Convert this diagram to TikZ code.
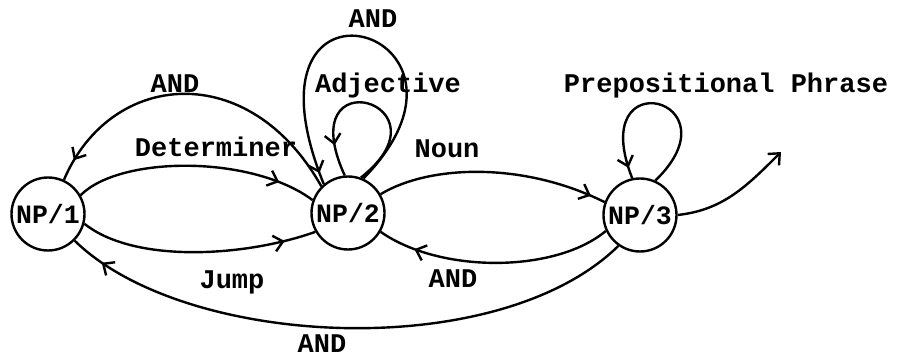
\documentclass[tikz,border=0pt]{standalone}
\usepackage{fontspec}
\newfontfamily\tw{Liberation Mono}
\usetikzlibrary{arrows.meta,decorations.markings}
\begin{document}
\begin{tikzpicture}[x=1pt,y=-1pt,
  st/.style={circle,draw,line width=2.4pt,minimum size=73pt,inner sep=0pt,font=\tw\bfseries\fontsize{26.5}{28}\selectfont},
  lbl/.style={font=\tw\bfseries\fontsize{27}{30}\selectfont,inner sep=0pt,anchor=base},
  edge/.style={line width=2.4pt},
  chev/.style={-{Straight Barb[length=9pt,width=16pt]}},
  midarr/.style={postaction={decorate,decoration={markings,mark=at position #1 with {\arrow{Straight Barb[length=9pt,width=16pt]}}}}},
]
\useasboundingbox (0,0) rectangle (904,358);
\node[st] (n1) at (48,214) {NP/1};
\node[st] (n2) at (348,213) {NP/2};
\node[st] (n3) at (640,215) {NP/3};
\coordinate (exit) at (781,152);

\node[lbl] (l1) at (175,93) {AND};
\node[lbl] (l2) at (216,157) {Determiner};
\node[lbl] (l3) at (447,158) {Noun};
\node[lbl] (l4) at (388,93) {Adjective};
\node[lbl] (l5) at (373,28) {AND};
\node[lbl] (l6) at (726,93) {Prepositional Phrase};
\node[lbl] (l7) at (232,288) {Jump};
\node[lbl] (l8) at (453,287) {AND};
\node[lbl] (l9) at (322,352) {AND};

\draw[edge,midarr=-22pt] (n2.135) .. controls +(-72,-128) and +(47,-110) .. (n1.65);
\draw[edge,midarr=-38pt] (n1.30) .. controls +(40,-40) and +(-60,-45) .. (n2.160);
\draw[edge,midarr=-32pt] (n1.-15) .. controls +(50,40) and +(-70,25) .. (n2.210);
\draw[edge,midarr=-15pt] (n2.30) .. controls +(50,-30) and +(-80,-40) .. (n3.160);
\draw[edge,midarr=-38pt] (n3.205) .. controls +(-50,42) and +(60,42) .. (n2.-30);
\draw[edge,midarr=-35pt] (n3.235) .. controls +(-120,118) and +(110,108) .. (n1.-45);
\draw[edge,midarr=-32pt] (n2.70) .. controls +(95,-75) and +(-55,-120) .. (n2.95);
\draw[edge,midarr=-12pt] (n2.66) .. controls +(147,-150) and +(-95,-235) .. (n2.130);
\draw[edge,midarr=-11pt] (n3.66) .. controls +(85,-82) and +(-47,-119) .. (n3.102);
\draw[edge,chev] (n3.0) .. controls +(45,-5) and +(-35,35) .. (exit);
\end{tikzpicture}
\end{document}
